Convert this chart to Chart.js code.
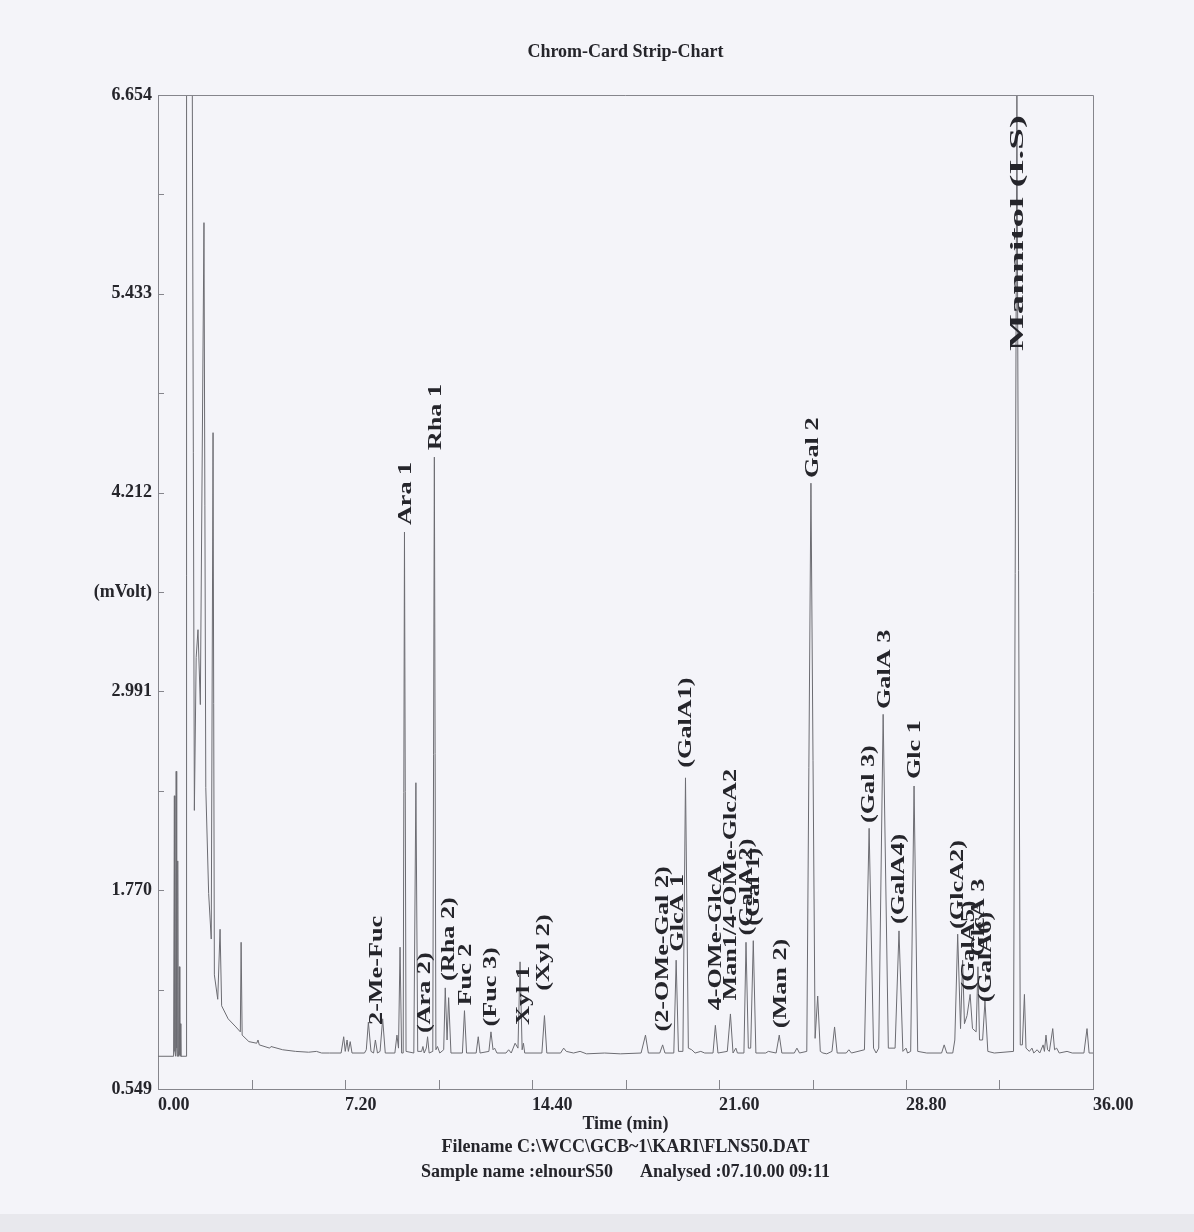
<!DOCTYPE html>
<html>
<head>
<meta charset="utf-8">
<title>Chrom-Card Strip-Chart</title>
<script src="https://cdn.jsdelivr.net/npm/chart.js@4.4.0/dist/chart.umd.min.js"></script>
<style>
  html, body { margin: 0; padding: 0; background: #f4f4f9; }
  #wrap { position: relative; width: 1194px; height: 1232px; overflow: hidden; }
  #band { position: absolute; left: 0; top: 1214px; width: 1194px; height: 18px; background: #e8e8ed; }
</style>
</head>
<body>
<div id="wrap">
  <canvas id="chromChart" width="1194" height="1232"></canvas>
  <div id="band"></div>
</div>
<script>
// detector trace (time in min, signal in mVolt)
const traceTime = [
  0.00, 0.60, 0.63, 0.65, 0.68, 0.70, 0.72, 0.74, 0.76, 0.78, 0.80, 0.82, 0.84, 0.86, 0.88, 1.08,
  1.10, 1.28, 1.40, 1.47, 1.54, 1.63, 1.77, 1.84, 1.95, 2.05, 2.12, 2.17, 2.30, 2.39, 2.45, 2.70,
  3.00, 3.17, 3.20, 3.24, 3.50, 3.80, 3.85, 3.90, 4.30, 4.35, 4.80, 5.30, 5.80, 6.10, 6.30, 6.60,
  7.05, 7.15, 7.21, 7.28, 7.33, 7.40, 7.47, 7.95, 8.02, 8.10, 8.20, 8.30, 8.37, 8.45, 8.55, 8.65,
  8.75, 9.12, 9.20, 9.26, 9.32, 9.38, 9.44, 9.49, 9.55, 9.85, 9.93, 10.00, 10.15, 10.20, 10.25, 10.33,
  10.38, 10.44, 10.58, 10.64, 10.70, 10.76, 10.85, 11.00, 11.06, 11.13, 11.19, 11.28, 11.72, 11.80, 11.88, 12.25,
  12.33, 12.40, 12.74, 12.82, 12.90, 12.96, 13.05, 13.40, 13.50, 13.60, 13.75, 13.86, 13.94, 14.02, 14.07, 14.12,
  14.78, 14.88, 14.97, 15.50, 15.62, 15.72, 16.00, 16.25, 16.50, 17.20, 17.80, 18.60, 18.77, 18.88, 19.32, 19.43,
  19.52, 19.86, 19.95, 20.04, 20.21, 20.31, 20.42, 20.55, 20.68, 20.90, 21.05, 21.37, 21.46, 21.56, 21.92, 22.04,
  22.14, 22.25, 22.31, 22.56, 22.64, 22.73, 22.82, 22.92, 23.02, 23.40, 23.50, 23.80, 23.92, 24.02, 24.50, 24.60,
  24.70, 24.98, 25.14, 25.30, 25.40, 25.50, 25.60, 25.75, 25.95, 26.05, 26.15, 26.50, 26.60, 26.70, 27.20, 27.38,
  27.55, 27.65, 27.75, 27.92, 28.12, 28.38, 28.53, 28.68, 28.80, 28.86, 28.98, 29.11, 29.25, 29.60, 30.17, 30.27,
  30.37, 30.60, 30.68, 30.79, 30.90, 30.98, 31.05, 31.15, 31.27, 31.36, 31.50, 31.57, 31.63, 31.75, 31.84, 31.95,
  32.20, 32.94, 33.07, 33.20, 33.28, 33.36, 33.42, 33.55, 33.65, 33.72, 33.85, 33.95, 34.08, 34.13, 34.19, 34.25,
  34.32, 34.45, 34.52, 34.60, 34.70, 35.00, 35.20, 35.65, 35.77, 35.85, 36.00
];
const traceMv = [
  0.75, 0.75, 2.35, 0.78, 0.75, 2.50, 0.80, 0.75, 1.95, 0.78, 0.75, 1.30, 0.76, 0.95, 0.75, 0.75,
  9.00, 9.00, 2.26, 3.20, 3.37, 2.91, 5.87, 2.40, 1.75, 1.47, 4.58, 1.25, 1.10, 1.53, 1.06, 0.98,
  0.93, 0.90, 1.45, 0.88, 0.84, 0.83, 0.85, 0.82, 0.80, 0.81, 0.79, 0.78, 0.775, 0.78, 0.77, 0.77,
  0.77, 0.87, 0.78, 0.85, 0.78, 0.84, 0.77, 0.77, 0.79, 0.96, 0.78, 0.77, 0.85, 0.77, 0.78, 0.98,
  0.77, 0.77, 0.88, 0.80, 1.42, 0.77, 0.77, 3.97, 0.78, 0.77, 2.43, 0.78, 0.78, 0.81, 0.77, 0.80,
  0.87, 0.77, 0.78, 4.43, 0.79, 0.81, 0.77, 0.79, 1.17, 0.85, 1.11, 0.77, 0.77, 1.03, 0.77, 0.77,
  0.87, 0.77, 0.78, 0.90, 0.79, 0.80, 0.77, 0.77, 0.79, 0.77, 0.83, 0.80, 1.33, 0.79, 0.83, 0.77,
  0.77, 1.00, 0.77, 0.77, 0.80, 0.78, 0.77, 0.78, 0.765, 0.77, 0.765, 0.77, 0.88, 0.77, 0.77, 0.82,
  0.77, 0.77, 1.34, 0.78, 0.78, 2.46, 0.80, 0.79, 0.77, 0.78, 0.77, 0.77, 0.94, 0.77, 0.78, 1.01,
  0.77, 0.80, 0.77, 0.77, 1.45, 0.80, 0.80, 1.46, 0.77, 0.77, 0.78, 0.77, 0.88, 0.77, 0.77, 0.80,
  0.77, 0.78, 4.27, 0.86, 1.12, 0.78, 0.77, 0.765, 0.78, 0.93, 0.77, 0.77, 0.79, 0.77, 0.79, 2.15,
  0.80, 0.77, 0.80, 2.85, 0.80, 0.80, 1.52, 0.78, 0.80, 0.77, 0.78, 2.41, 0.78, 0.77, 0.77, 0.82,
  0.77, 0.77, 0.85, 1.50, 0.92, 1.34, 0.95, 1.00, 1.13, 0.92, 0.90, 1.30, 0.85, 0.85, 1.09, 0.78,
  0.77, 0.78, 6.65, 0.82, 0.82, 1.13, 0.80, 0.78, 0.80, 0.77, 0.79, 0.77, 0.82, 0.78, 0.88, 0.79,
  0.78, 0.92, 0.79, 0.80, 0.77, 0.78, 0.77, 0.77, 0.92, 0.77, 0.77
];

// peak annotations: name, time of the label column, signal where the text starts
const peakNames = [
  '2-Me-Fuc', 'Ara 1', '(Ara 2)', 'Rha 1', '(Rha 2)', 'Fuc 2', '(Fuc 3)', 'Xyl 1', '(Xyl 2)',
  '(2-OMe-Gal 2)', 'GlcA 1', '(GalA1)', '4-OMe-GlcA', 'Man1/4-OMe-GlcA2', '(GalA 2)', '(Gal 1)', '(Man 2)',
  'Gal 2', '(Gal 3)', 'GalA 3', '(GalA4)', 'Glc 1', '(GlcA2)', '(GalA5)', 'GlcA 3', '(GalA6)', 'Mannitol (I.S)'
];
const peakTimes = [
  8.43, 9.55, 10.28, 10.70, 11.20, 11.86, 12.82, 14.09, 14.86,
  19.44, 20.02, 20.33, 21.49, 22.06, 22.68, 22.95, 23.99,
  25.22, 27.38, 27.99, 28.53, 29.15, 30.80, 31.23, 31.61, 31.88, 33.11
];
const peakLabelMv = [
  0.93, 4.00, 0.88, 4.46, 1.20, 1.05, 0.92, 0.93, 1.14,
  0.89, 1.38, 2.51, 1.02, 1.08, 1.48, 1.54, 0.91,
  4.29, 2.17, 2.87, 1.55, 2.44, 1.52, 1.14, 1.35, 1.07, 5.07
];

// axis ticks
const yTickValues = [0.549, 1.1595, 1.770, 2.3805, 2.991, 3.6015, 4.212, 4.8225, 5.433, 6.0435, 6.654];
const yTickLabels = ['0.549', '', '1.770', '', '2.991', '(mVolt)', '4.212', '', '5.433', '', '6.654'];
const xTickValues = [0, 3.6, 7.2, 10.8, 14.4, 18, 21.6, 25.2, 28.8, 32.4, 36];
const xTickLabels = ['0.00', '', '7.20', '', '14.40', '', '21.60', '', '28.80', '', '36.00'];

const inkColor = '#25252b';
const axisColor = '#85858c';
const traceColor = '#6c6c72';
const serif = 'Liberation Serif, Times New Roman, serif';

const chromPoints = traceTime.map((t, i) => ({ x: t, y: traceMv[i] }));

// tick marks point into the plot, box closed on top and right, peak names
const stripDecor = {
  id: 'stripDecor',
  afterDatasetsDraw(chart) {
    const { ctx, chartArea: a, scales: { x, y } } = chart;
    ctx.save();
    ctx.strokeStyle = axisColor;
    ctx.lineWidth = 1;
    ctx.beginPath();
    ctx.moveTo(a.left, a.top + 0.5);
    ctx.lineTo(a.right + 0.5, a.top + 0.5);
    ctx.lineTo(a.right + 0.5, a.bottom);
    yTickValues.forEach(v => {
      const py = Math.round(y.getPixelForValue(v)) + 0.5;
      ctx.moveTo(a.left, py);
      ctx.lineTo(a.left + 6, py);
    });
    xTickValues.forEach(v => {
      const px = Math.round(x.getPixelForValue(v)) + 0.5;
      ctx.moveTo(px, a.bottom);
      ctx.lineTo(px, a.bottom - 9);
    });
    ctx.stroke();

    // the plotter prints the names long and narrow
    ctx.fillStyle = inkColor;
    ctx.font = 'bold 19px ' + serif;
    ctx.textAlign = 'left';
    ctx.textBaseline = 'middle';
    peakNames.forEach((name, i) => {
      const stretch = name.startsWith('Mannitol') ? 2.05 : 1.38;
      ctx.save();
      ctx.translate(x.getPixelForValue(peakTimes[i]), y.getPixelForValue(peakLabelMv[i]));
      ctx.rotate(-Math.PI / 2);
      ctx.scale(stretch, 1);
      ctx.fillText(name, 2 / stretch, 0);
      ctx.restore();
    });
    ctx.restore();
  }
};

new Chart(document.getElementById('chromChart').getContext('2d'), {
  type: 'line',
  data: {
    datasets: [{
      data: chromPoints,
      borderColor: traceColor,
      borderWidth: 1,
      pointRadius: 0,
      tension: 0,
      fill: false
    }]
  },
  options: {
    responsive: false,
    animation: false,
    events: [],
    layout: { padding: { left: 60, right: 101, top: 0, bottom: 0 } },
    plugins: {
      legend: { display: false },
      tooltip: { enabled: false },
      title: {
        display: true,
        fullSize: false,
        text: 'Chrom-Card Strip-Chart',
        color: inkColor,
        font: { family: serif, size: 18, weight: 'bold', lineHeight: 1.2 },
        padding: { top: 42, bottom: 31.4 }
      },
      subtitle: {
        display: true,
        fullSize: false,
        position: 'bottom',
        text: ['Filename C:\\WCC\\GCB~1\\KARI\\FLNS50.DAT', 'Sample name :elnourS50      Analysed :07.10.00 09:11'],
        color: inkColor,
        font: { family: serif, size: 18, weight: 'bold', lineHeight: 25 / 18 },
        padding: { top: 0, bottom: 47 }
      }
    },
    scales: {
      x: {
        type: 'linear',
        min: 0,
        max: 36,
        afterBuildTicks: s => { s.ticks = xTickValues.map(v => ({ value: v })); },
        afterFit: s => { s.height = 46; },
        grid: { display: false, drawTicks: false },
        border: { display: true, color: axisColor, width: 1 },
        ticks: {
          autoSkip: false,
          maxRotation: 0,
          align: 'start',
          padding: 6,
          color: inkColor,
          font: { family: serif, size: 18, weight: 'bold', lineHeight: 1.2 },
          callback: (v, i) => xTickLabels[i]
        },
        title: {
          display: true,
          text: 'Time (min)',
          color: inkColor,
          font: { family: serif, size: 18, weight: 'bold', lineHeight: 1.2 },
          padding: { top: 0, bottom: 0 }
        }
      },
      y: {
        type: 'linear',
        min: 0.549,
        max: 6.654,
        afterBuildTicks: s => { s.ticks = yTickValues.map(v => ({ value: v })); },
        afterFit: s => { s.width = 98; },
        grid: { display: false, drawTicks: false },
        border: { display: true, color: axisColor, width: 1 },
        ticks: {
          autoSkip: false,
          padding: 6,
          color: inkColor,
          font: { family: serif, size: 18, weight: 'bold', lineHeight: 1.2 },
          callback: (v, i) => yTickLabels[i]
        }
      }
    }
  },
  plugins: [stripDecor]
});
</script>
</body>
</html>
